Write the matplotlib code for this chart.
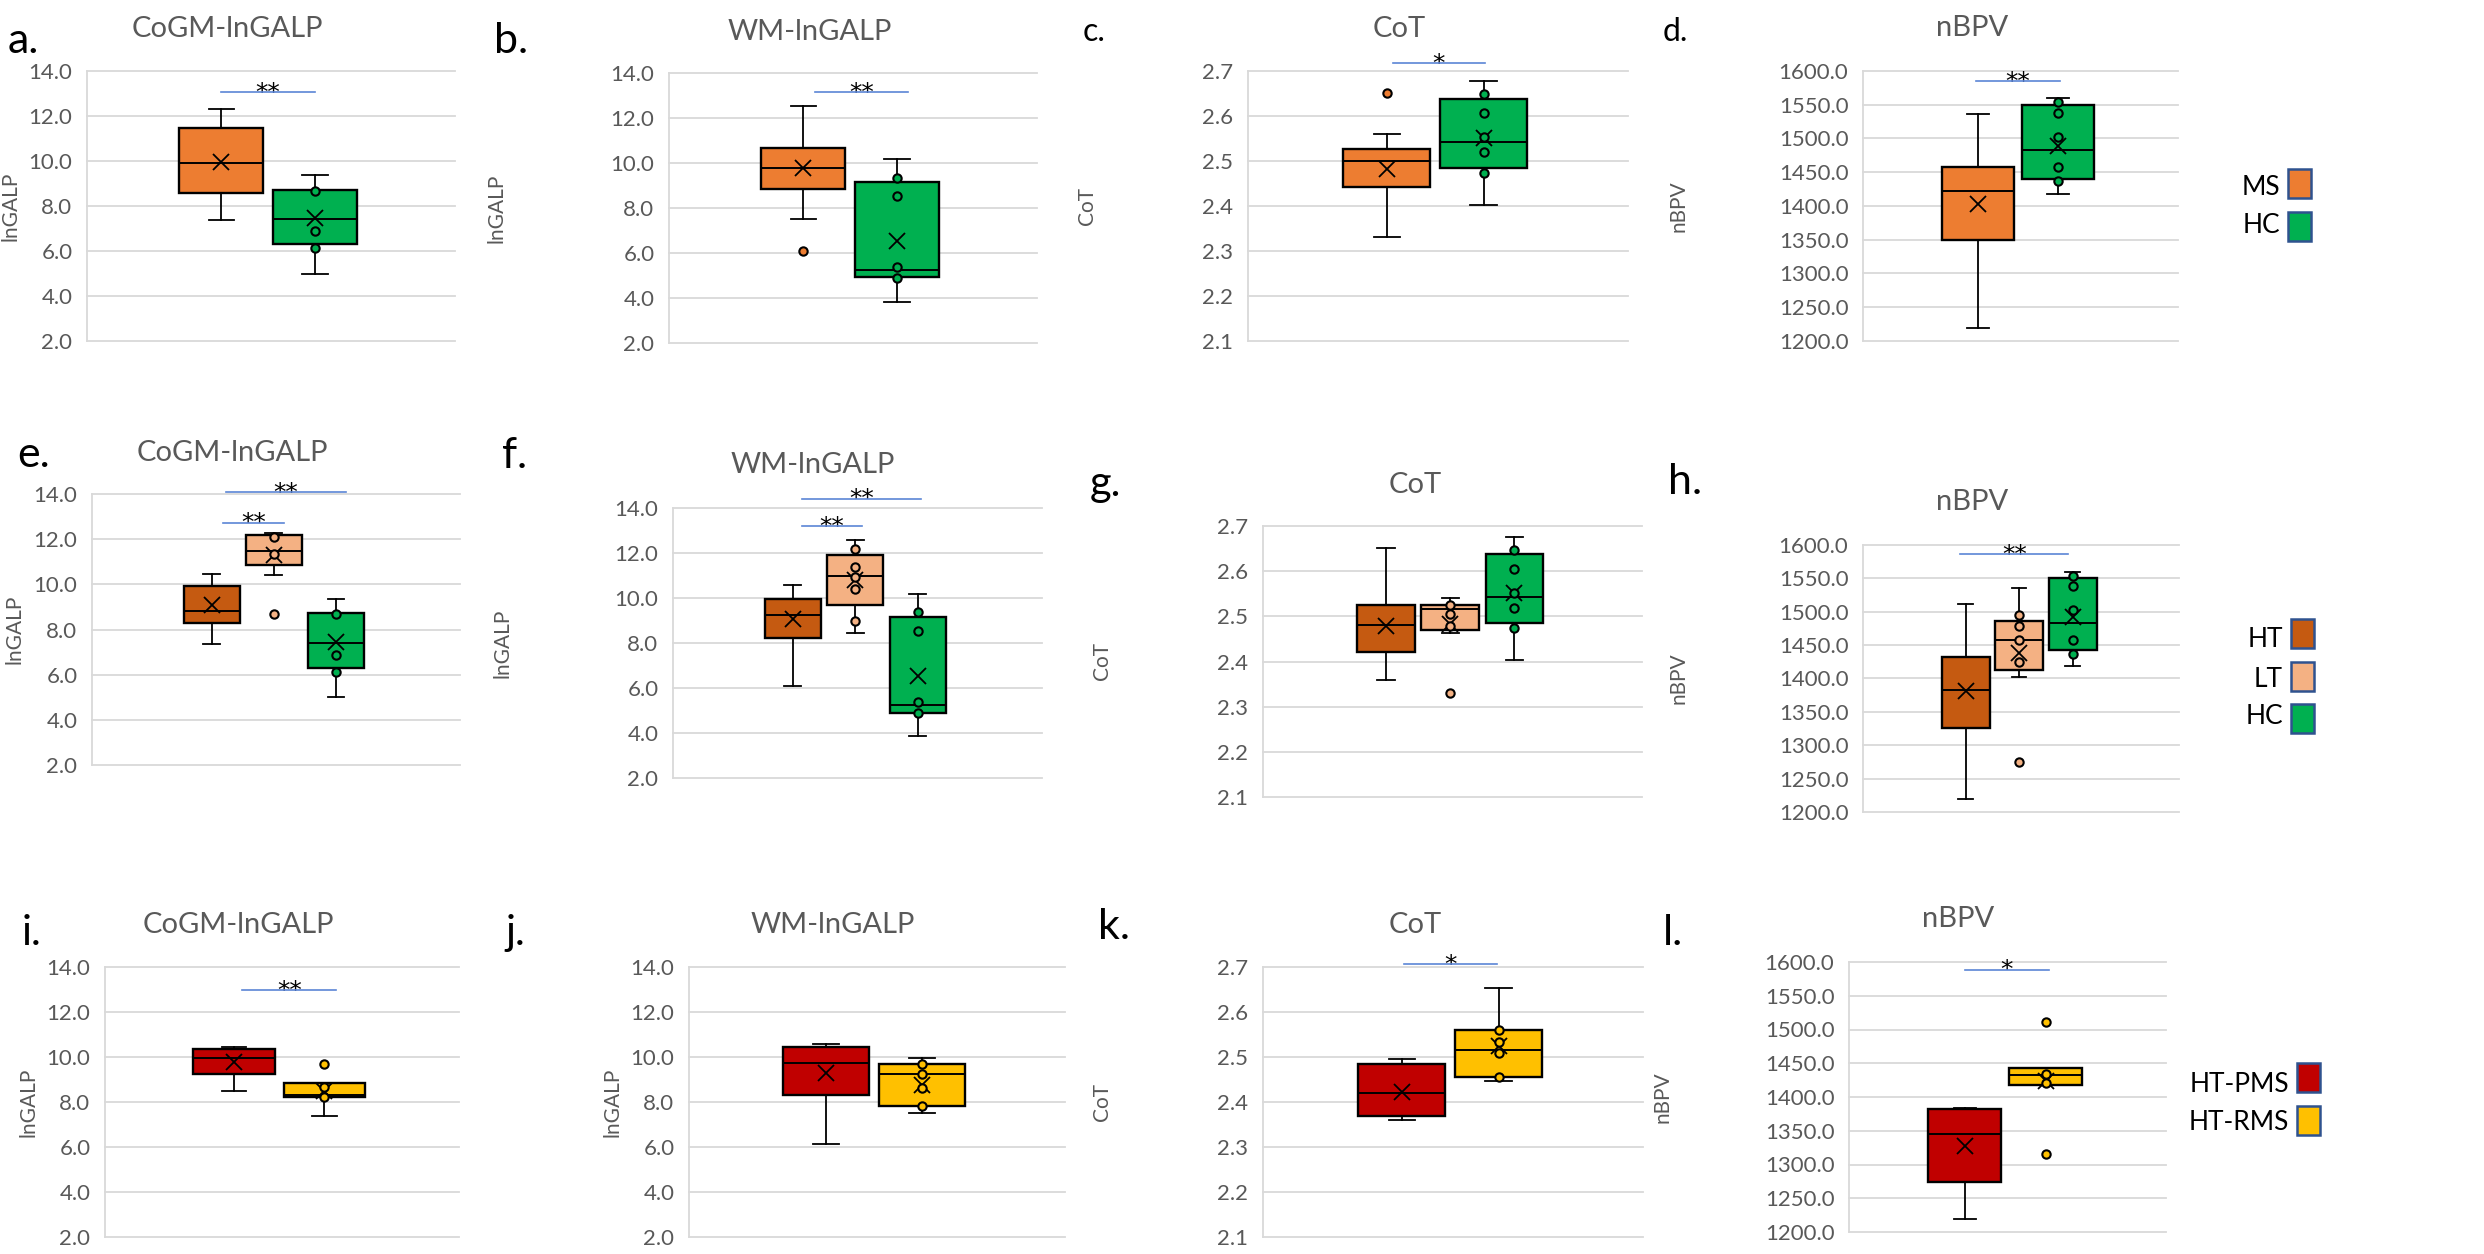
import matplotlib.pyplot as plt
from matplotlib.patches import Rectangle

plt.rcParams['font.family'] = ['Lato', 'DejaVu Sans']

# groups and colours of the three rows
groups_ms = ['MS', 'HC']
groups_ht = ['HT', 'LT', 'HC']
groups_prog = ['HT-PMS', 'HT-RMS']
colors_ms = ['#ED7D31', '#00B050']
colors_ht = ['#C55A11', '#F4B183', '#00B050']
colors_prog = ['#C00000', '#FFC000']

titles = ['CoGM-lnGALP', 'WM-lnGALP', 'CoT', 'nBPV']
ylabels = ['lnGALP', 'lnGALP', 'CoT', 'nBPV']
lngalp_ticks = [2.0, 4.0, 6.0, 8.0, 10.0, 12.0, 14.0]
cot_ticks = [2.1, 2.2, 2.3, 2.4, 2.5, 2.6, 2.7]
nbpv_ticks = [1200.0, 1250.0, 1300.0, 1350.0, 1400.0, 1450.0, 1500.0, 1550.0, 1600.0]

# box = [whisker low, q1, median, q3, whisker high] per group
# dots = individual points shown (inner points + outliers)
# sig = (from, to, y, stars)
a_box = [[7.37, 8.59, 9.93, 11.47, 12.31], [4.98, 6.31, 7.42, 8.73, 9.36]]
a_mean = [9.95, 7.45]
a_dots = [[], [8.67, 6.88, 6.14]]
a_sig = [(0.0, 1.0, 13.07, '**')]

b_box = [[7.49, 8.86, 9.79, 10.65, 12.54], [3.82, 4.92, 5.26, 9.14, 10.17]]
b_mean = [9.76, 6.53]
b_dots = [[6.11], [9.35, 8.53, 5.36, 4.87]]
b_sig = [(0.13, 1.12, 13.16, '**')]

c_box = [[2.331, 2.443, 2.500, 2.526, 2.559], [2.403, 2.485, 2.542, 2.638, 2.677]]
c_mean = [2.482, 2.552]
c_dots = [[2.652], [2.648, 2.606, 2.553, 2.519, 2.474]]
c_sig = [(0.07, 1.01, 2.718, '*')]

d_box = [[1218.7, 1349.4, 1421.5, 1458.0, 1535.9], [1418.0, 1440.7, 1482.6, 1550.2, 1560.5]]
d_mean = [1403.7, 1489.0]
d_dots = [[], [1554.6, 1537.9, 1502.3, 1458.0, 1436.3]]
d_sig = [(-0.03, 1.02, 1585.2, '**')]

e_box = [[7.37, 8.30, 8.82, 9.94, 10.46], [10.43, 10.87, 11.48, 12.18, 12.29],
         [5.00, 6.31, 7.42, 8.75, 9.35]]
e_mean = [9.08, 11.30, 7.46]
e_dots = [[], [12.08, 11.33, 8.69], [8.69, 6.87, 6.13]]
e_sig = [(0.23, 2.16, 14.09, '**'), (0.19, 1.16, 12.73, '**')]

f_box = [[6.11, 8.21, 9.24, 9.95, 10.57], [8.44, 9.68, 10.96, 11.93, 12.57],
         [3.85, 4.91, 5.25, 9.15, 10.20]]
f_mean = [9.05, 10.79, 6.55]
f_dots = [[], [12.17, 11.38, 10.94, 10.38, 8.99], [9.36, 8.55, 5.37, 4.88]]
f_sig = [(0.14, 2.06, 14.41, '**'), (0.14, 1.10, 13.20, '**')]

g_box = [[2.358, 2.420, 2.480, 2.524, 2.652], [2.464, 2.469, 2.517, 2.525, 2.540],
         [2.403, 2.486, 2.543, 2.637, 2.676]]
g_mean = [2.478, 2.484, 2.552]
g_dots = [[], [2.525, 2.506, 2.478, 2.331], [2.647, 2.605, 2.552, 2.518, 2.474]]
g_sig = []

h_box = [[1219.5, 1326.0, 1382.5, 1432.5, 1511.5], [1401.5, 1412.5, 1457.5, 1486.0, 1535.0],
         [1418.5, 1442.0, 1482.5, 1550.5, 1560.0]]
h_mean = [1381.5, 1438.5, 1491.5]
h_dots = [[], [1495.0, 1478.5, 1457.5, 1424.0, 1275.0], [1554.0, 1538.0, 1502.5, 1457.5, 1436.5]]
h_sig = [(-0.10, 1.92, 1586.5, '**')]

i_box = [[8.47, 9.26, 9.97, 10.34, 10.45], [7.38, 8.22, 8.31, 8.83, 8.83]]
i_mean = [9.76, 8.50]
i_dots = [[], [9.71, 8.68, 8.24]]
i_sig = [(0.09, 1.13, 12.97, '**')]

j_box = [[6.12, 8.30, 9.74, 10.45, 10.59], [7.50, 7.82, 9.26, 9.70, 9.95]]
j_mean = [9.27, 8.75]
j_dots = [[], [9.70, 9.24, 8.61, 7.84]]
j_sig = []

k_box = [[2.359, 2.368, 2.421, 2.484, 2.495], [2.446, 2.455, 2.516, 2.560, 2.653]]
k_mean = [2.423, 2.525]
k_dots = [[], [2.560, 2.534, 2.510, 2.455]]
k_sig = [(0.02, 0.98, 2.706, '*')]

l_box = [[1219.7, 1273.9, 1345.3, 1382.8, 1384.2], [1417.7, 1417.7, 1432.0, 1442.9, 1442.9]]
l_mean = [1327.6, 1424.1]
l_dots = [[], [1511.3, 1433.5, 1420.2, 1315.3]]
l_sig = [(0.0, 1.04, 1588.7, '*')]

W, H = 2484, 1254
fig = plt.figure(figsize=(W / 100, H / 100), dpi=100)
GRAY = '#595959'
GRID = '#D9D9D9'


def add_axes_px(l, t, r, b):
    return fig.add_axes([l / W, 1 - b / H, (r - l) / W, (b - t) / H])


def text_px(x, y, s, **kw):
    fig.text(x / W, 1 - y / H, s, **kw)


def draw_panel(ax, box, means, dots, sig, colors, ticks):
    n = len(box)
    stats = [dict(whislo=v[0], q1=v[1], med=v[2], q3=v[3], whishi=v[4], mean=m, fliers=[])
             for v, m in zip(box, means)]
    bp = ax.bxp(stats, positions=list(range(n)), widths=0.9, capwidths=0.27,
                patch_artist=True, showmeans=True, showfliers=False, manage_ticks=False,
                boxprops=dict(edgecolor='black', linewidth=1.7),
                whiskerprops=dict(color='black', linewidth=1.3),
                capprops=dict(color='black', linewidth=1.3),
                medianprops=dict(color='black', linewidth=1.4),
                meanprops=dict(marker='x', markeredgecolor='black', markersize=11,
                               markeredgewidth=1.3))
    for patch, c in zip(bp['boxes'], colors):
        patch.set_facecolor(c)
    for i, (d, c) in enumerate(zip(dots, colors)):
        ax.plot([i] * len(d), d, 'o', ms=6, mfc=c, mec='black', mew=1.5, zorder=4)

    for t in ticks:
        ax.axhline(t, color=GRID, lw=1.3, zorder=0, clip_on=False)

    for x0, x1, y, txt in sig:
        ax.plot([x0, x1], [y, y], color='#5B85D6', lw=1.2, clip_on=False, zorder=5)
        ax.annotate(txt, xy=((x0 + x1) / 2, y), xytext=(0, -5.5), textcoords='offset points',
                    ha='center', va='baseline', fontsize=18, family='DejaVu Sans',
                    annotation_clip=False)

    ax.set_xlim(-1.43, 2.49) if n == 2 else ax.set_xlim(-1.92, 3.99)
    ax.set_ylim(ticks[0], ticks[-1])
    ax.set_yticks(ticks)
    ax.set_yticklabels(['%.1f' % t for t in ticks])
    ax.tick_params(axis='y', length=0, pad=10.5, labelsize=16, labelcolor=GRAY)
    ax.set_xticks([])
    for s in ['top', 'right', 'bottom']:
        ax.spines[s].set_visible(False)
    ax.spines['left'].set_color(GRID)
    ax.spines['left'].set_linewidth(1.3)


panels = [
    ('a.', a_box, a_mean, a_dots, a_sig, colors_ms, 0),
    ('b.', b_box, b_mean, b_dots, b_sig, colors_ms, 1),
    ('c.', c_box, c_mean, c_dots, c_sig, colors_ms, 2),
    ('d.', d_box, d_mean, d_dots, d_sig, colors_ms, 3),
    ('e.', e_box, e_mean, e_dots, e_sig, colors_ht, 0),
    ('f.', f_box, f_mean, f_dots, f_sig, colors_ht, 1),
    ('g.', g_box, g_mean, g_dots, g_sig, colors_ht, 2),
    ('h.', h_box, h_mean, h_dots, h_sig, colors_ht, 3),
    ('i.', i_box, i_mean, i_dots, i_sig, colors_prog, 0),
    ('j.', j_box, j_mean, j_dots, j_sig, colors_prog, 1),
    ('k.', k_box, k_mean, k_dots, k_sig, colors_prog, 2),
    ('l.', l_box, l_mean, l_dots, l_sig, colors_prog, 3),
]
tick_sets = [lngalp_ticks, lngalp_ticks, cot_ticks, nbpv_ticks]

# layout in reference pixels
axes_px = [(87, 71, 455, 341), (669, 73, 1037, 343), (1248, 71, 1628, 341), (1863, 71, 2178, 341),
           (92, 494, 460, 765), (673, 508, 1042, 778), (1263, 526, 1642, 797), (1863, 545, 2179, 812),
           (105, 967, 459, 1237), (689, 967, 1065, 1237), (1263, 967, 1643, 1237), (1849, 962, 2166, 1232)]
letter_px = [(8, 53, 31), (494, 53, 31), (1083, 41, 23), (1663, 41, 23),
             (17, 467, 31), (502, 468, 31), (1090, 496, 30), (1668, 494, 31),
             (22, 945, 30), (505, 945, 30), (1098, 939, 31), (1663, 945, 31)]
title_px = [(227, 37), (810, 40), (1399, 37), (1972, 36),
            (232, 461), (813, 473), (1415, 493), (1972, 510),
            (238, 933), (833, 933), (1415, 933), (1958, 927)]
ylabel_x = [10, 497, 1087, 1679, 15, 502, 1102, 1679, 28, 613, 1102, 1663]

for k, (letter, box, mean, dots, sig, cols, m) in enumerate(panels):
    l, t, r, b = axes_px[k]
    ax = add_axes_px(l, t, r, b)
    draw_panel(ax, box, mean, dots, sig, cols, tick_sets[m])
    lx, ly, ls = letter_px[k]
    text_px(lx, ly, letter, fontsize=ls, ha='left', va='baseline', color='black')
    tx, ty = title_px[k]
    text_px(tx, ty, titles[m], fontsize=21, ha='center', va='baseline', color=GRAY)
    text_px(ylabel_x[k], (t + b) / 2, ylabels[m], fontsize=15, rotation=90,
            ha='center', va='center', color=GRAY)


def legend_px(labels, colors, baselines, sq_x, sq_tops):
    for lab, c, yb, st in zip(labels, colors, baselines, sq_tops):
        text_px(sq_x - 8, yb, lab, fontsize=19, ha='right', va='baseline', color='black')
        fig.add_artist(Rectangle((sq_x / W, 1 - (st + 29) / H), 23 / W, 29 / H,
                                 transform=fig.transFigure, facecolor=c,
                                 edgecolor='#2F528F', linewidth=1.8))


legend_px(groups_ms, colors_ms, [195, 233], 2288, [169, 212])
legend_px(groups_ht, colors_ht, [647, 687, 724], 2291, [619, 662, 704])
legend_px(groups_prog, colors_prog, [1092, 1130], 2297, [1063, 1106])

fig.savefig('out.png', dpi=100, facecolor='white')
